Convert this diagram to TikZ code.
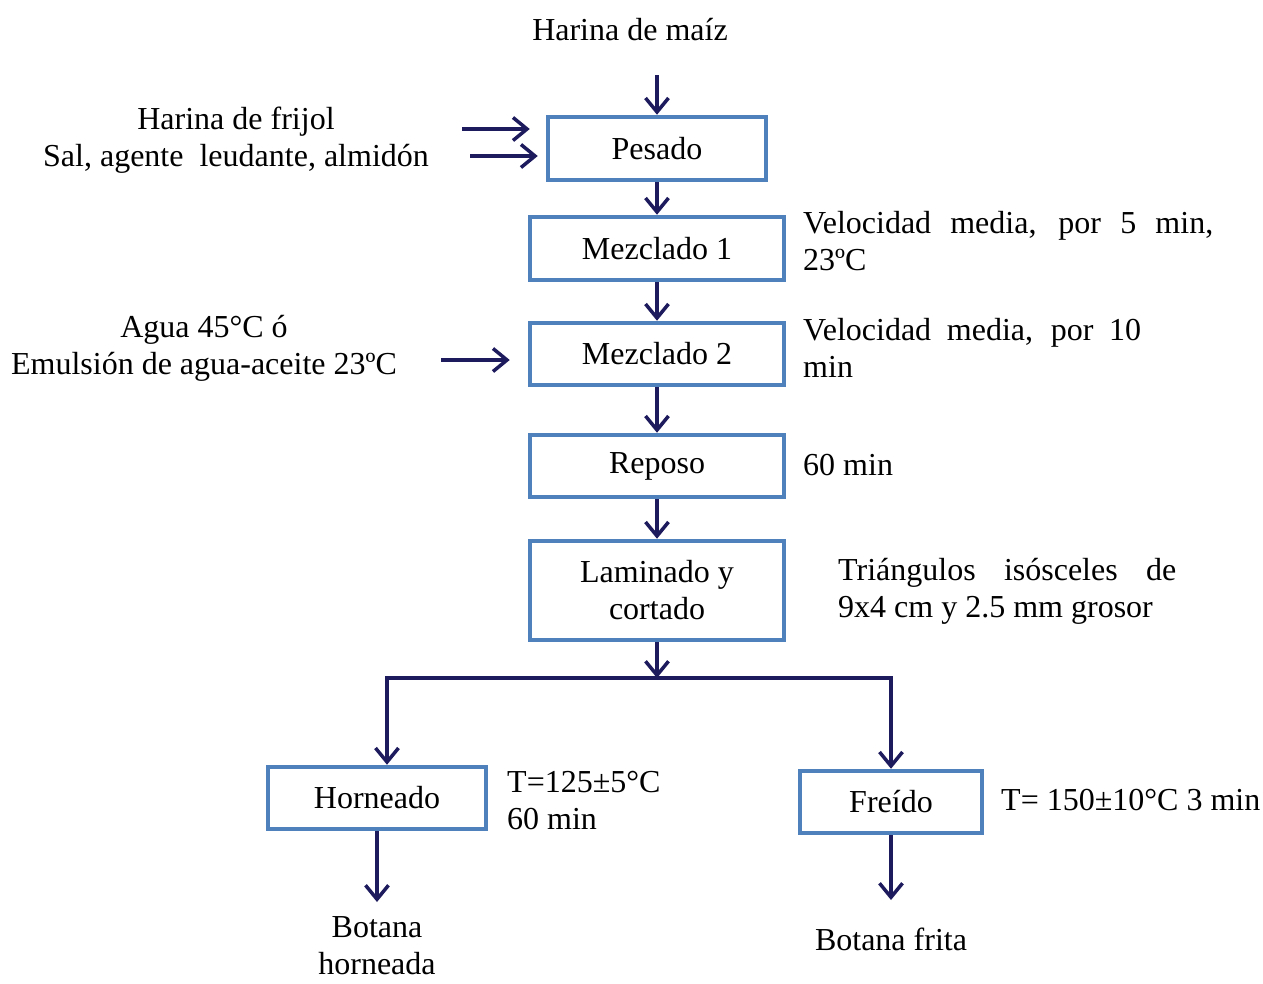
\documentclass[tikz,border=0pt]{standalone}
\usepackage{fontspec}
\setmainfont{Liberation Serif}
\usetikzlibrary{arrows.meta,calc}
\definecolor{boxblue}{RGB}{79,129,189}
\definecolor{flownavy}{RGB}{30,26,94}
\tikzset{
  txt/.style={inner sep=0pt, font=\fontsize{32}{37}\selectfont},
  stepbox/.style={draw=boxblue, line width=4.5pt, fill=white, inner sep=0pt,
    font=\fontsize{32}{37}\selectfont, align=center},
  flow/.style={draw=flownavy, line width=3.5pt,
    -{Straight Barb[length=14pt,width=23pt,line width=3.5pt]}},
  plainflow/.style={draw=flownavy, line width=3.5pt},
}
\begin{document}
\begin{tikzpicture}[x=1pt,y=-1pt]
\useasboundingbox (0,0) rectangle (1263,983);

% process boxes
\node[stepbox, minimum width=218pt, minimum height=63pt] (pes) at (657,148.5) {Pesado};
\node[stepbox, minimum width=254pt, minimum height=63pt] (mz1) at (657,248.5) {Mezclado 1};
\node[stepbox, minimum width=254pt, minimum height=62pt] (mz2) at (657,354) {Mezclado 2};
\node[stepbox, minimum width=254pt, minimum height=62pt] (rep) at (657,466) {Reposo};
\node[stepbox, minimum width=254pt, minimum height=99pt] (lam) at (657,590.5) {Laminado y\\cortado};
\node[stepbox, minimum width=218pt, minimum height=62pt] (hor) at (377,798) {Horneado};
\node[stepbox, minimum width=182pt, minimum height=62pt] (fre) at (891,802) {Freído};

% inputs and products
\node[txt] (maiz) at (630,30) {Harina de maíz};
\node[txt, align=center] (frij) at (236,140) {Harina de frijol\\Sal, agente\ \ leudante, almidón};
\node[txt, align=center] (agua) at (204,348) {Agua 45°C ó\\Emulsión de agua-aceite 23ºC};
\node[txt, align=center] (bh) at (377,946) {Botana\\horneada};
\node[txt] (bf) at (891,939) {Botana frita};

% conditions
\node[txt, anchor=west, align=left] (c1) at (803,241)
  {\makebox[410pt][s]{Velocidad media, por 5 min,}\\23ºC};
\node[txt, anchor=west, align=left] (c2) at (803,347.5)
  {\makebox[338pt][s]{Velocidad media, por 10}\\min};
\node[txt, anchor=west] (c3) at (803,465) {60 min};
\node[txt, anchor=west, align=left] (c4) at (838,591)
  {\makebox[338pt][s]{Triángulos isósceles de}\\9x4 cm y 2.5 mm grosor};
\node[txt, anchor=west, align=left] (c5) at (507,801) {T=125±5°C\\60 min};
\node[txt, anchor=west] (c6) at (1001,800) {T= 150±10°C 3 min};

% free ends of connectors
\coordinate (maizEnd) at (657,75);
\coordinate (frijA) at (462,129);
\coordinate (frijB) at (470,156);
\coordinate (aguaA) at (441,360);
\coordinate (split) at (657,678);
\coordinate (splitL) at (387,678);
\coordinate (splitR) at (891,678);
\coordinate (bhEnd) at (377,902);
\coordinate (bfEnd) at (891,900);

% main line
\draw[flow] (maizEnd) -- (pes.north);
\draw[flow] (frijA) -- ($(pes.west |- frijA)+(-16,0)$);
\draw[flow] (frijB) -- ($(pes.west |- frijB)+(-8,0)$);
\draw[flow] (pes) -- (mz1);
\draw[flow] (mz1) -- (mz2);
\draw[flow] (aguaA) -- ($(mz2.west |- aguaA)+(-18,0)$);
\draw[flow] (mz2) -- (rep);
\draw[flow] (rep) -- (lam);
\draw[flow] (lam) -- (split);

% branches
\draw[plainflow] ($(splitL)+(-1.75,0)$) -- ($(splitR)+(1.75,0)$);
\draw[flow] (splitL) -- (splitL |- hor.north);
\draw[flow] (splitR) -- (fre.north);
\draw[flow] (hor) -- (bhEnd);
\draw[flow] (fre) -- (bfEnd);
\end{tikzpicture}
\end{document}
